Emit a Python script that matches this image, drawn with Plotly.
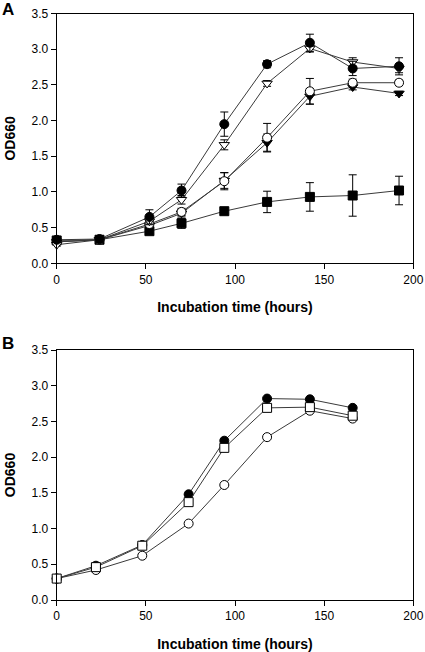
import plotly.graph_objects as go

# ---------------- Panel A data ----------------
time_a = [0, 24, 52, 70, 94, 118, 142, 166, 192]
a_filled_circle = [0.33, 0.34, 0.65, 1.02, 1.95, 2.79, 3.09, 2.73, 2.76]
a_filled_circle_err = [0.03, 0.04, 0.10, 0.09, 0.17, 0.05, 0.12, 0.10, 0.12]
a_open_tri = [0.26, 0.33, 0.59, 0.89, 1.66, 2.52, 3.01, 2.82, 2.73]
a_open_tri_err = [0.02, 0.03, 0.05, 0.06, 0.07, 0.04, 0.05, 0.06, 0.06]
a_open_circle = [0.30, 0.33, 0.55, 0.72, 1.15, 1.76, 2.41, 2.53, 2.53]
a_open_circle_err = [0.02, 0.03, 0.04, 0.05, 0.12, 0.20, 0.18, 0.05, 0.04]
a_filled_tri = [0.30, 0.33, 0.53, 0.70, 1.16, 1.69, 2.34, 2.47, 2.38]
a_filled_tri_err = [0.02, 0.03, 0.04, 0.05, 0.11, 0.12, 0.11, 0.04, 0.03]
a_filled_sq = [0.32, 0.33, 0.45, 0.56, 0.73, 0.86, 0.93, 0.95, 1.02]
a_filled_sq_err = [0.02, 0.03, 0.03, 0.07, 0.03, 0.15, 0.20, 0.29, 0.20]

# ---------------- Panel B data ----------------
time_b = [0, 22, 48, 74, 94, 118, 142, 166]
b_filled_circle = [0.30, 0.48, 0.77, 1.48, 2.23, 2.82, 2.81, 2.69]
b_open_sq = [0.30, 0.46, 0.76, 1.37, 2.13, 2.69, 2.70, 2.58]
b_open_circle = [0.30, 0.42, 0.62, 1.07, 1.61, 2.28, 2.65, 2.54]

x_ticks = [0, 50, 100, 150, 200]
y_ticks = [0.0, 0.5, 1.0, 1.5, 2.0, 2.5, 3.0, 3.5]
x_label = "Incubation time (hours)"
y_label = "OD660"

FONT = "Liberation Sans, Arial, sans-serif"
LINE_COL = "#3a3a3a"

fig = go.Figure()


def add_series(x, y, err, symbol, fill, xa, ya, size=8):
    fig.add_trace(go.Scatter(
        x=x, y=y, mode="lines+markers", xaxis=xa, yaxis=ya,
        line=dict(color=LINE_COL, width=1),
        marker=dict(symbol=symbol, size=size, color=fill,
                    line=dict(color="black", width=1)),
        error_y=(dict(type="data", array=err, visible=True, color="black",
                      thickness=1, width=4) if err is not None else None),
        showlegend=False, cliponaxis=False, hoverinfo="skip",
    ))


# Panel A (top)
add_series(time_a, a_filled_sq, a_filled_sq_err, "square", "black", "x", "y", 9)
add_series(time_a, a_filled_tri, a_filled_tri_err, "triangle-down", "black", "x", "y", 9)
add_series(time_a, a_open_circle, a_open_circle_err, "circle", "white", "x", "y", 9)
add_series(time_a, a_open_tri, a_open_tri_err, "triangle-down", "white", "x", "y", 9)
add_series(time_a, a_filled_circle, a_filled_circle_err, "circle", "black", "x", "y", 9)

# Panel B (bottom)
add_series(time_b, b_open_circle, None, "circle", "white", "x2", "y2", 9)
add_series(time_b, b_filled_circle, None, "circle", "black", "x2", "y2", 9)
add_series(time_b, b_open_sq, None, "square", "white", "x2", "y2", 9)

W, H = 425, 652
left, right = 56.7, 413.3
a_top, a_bot = 13.5, 263.3
b_top, b_bot = 350.0, 600.0

axis_common = dict(
    showgrid=False, zeroline=False, showline=True, linecolor="black",
    linewidth=1, mirror=True, ticks="outside", ticklen=5, tickwidth=1,
    tickcolor="black", tickfont=dict(family=FONT, size=12, color="black"),
    automargin=False,
)

xdom = [left / W, right / W]
title_font = dict(family=FONT, size=14, color="black")
fig.update_layout(
    width=W, height=H,
    margin=dict(l=0, r=0, t=0, b=0),
    paper_bgcolor="white", plot_bgcolor="white",
    xaxis=dict(domain=xdom, range=[0, 200], tickvals=x_ticks, anchor="y",
               title=dict(text="<b>" + x_label + "</b>", standoff=16,
                          font=title_font),
               **axis_common),
    yaxis=dict(domain=[1 - a_bot / H, 1 - a_top / H], range=[0, 3.5],
               tickvals=y_ticks, tickformat=".1f", anchor="x",
               title=dict(text="<b>" + y_label + "</b>", standoff=12,
                          font=title_font),
               **axis_common),
    xaxis2=dict(domain=xdom, range=[0, 200], tickvals=x_ticks, anchor="y2",
                title=dict(text="<b>" + x_label + "</b>", standoff=16,
                           font=title_font),
                **axis_common),
    yaxis2=dict(domain=[1 - b_bot / H, 1 - b_top / H], range=[0, 3.5],
                tickvals=y_ticks, tickformat=".1f", anchor="x2",
                title=dict(text="<b>" + y_label + "</b>", standoff=12,
                           font=title_font),
                **axis_common),
    annotations=[
        dict(text="<b>A</b>", x=8 / W, y=1 - 9 / H, xref="paper", yref="paper",
             showarrow=False, xanchor="center", yanchor="middle",
             font=dict(family=FONT, size=17, color="black")),
        dict(text="<b>B</b>", x=8 / W, y=1 - 344 / H, xref="paper", yref="paper",
             showarrow=False, xanchor="center", yanchor="middle",
             font=dict(family=FONT, size=17, color="black")),
    ],
)

fig.write_html(
    "out.html",
    config={"displayModeBar": False, "responsive": False},
    post_script="document.body.style.margin='0';document.body.style.overflow='hidden';",
)
